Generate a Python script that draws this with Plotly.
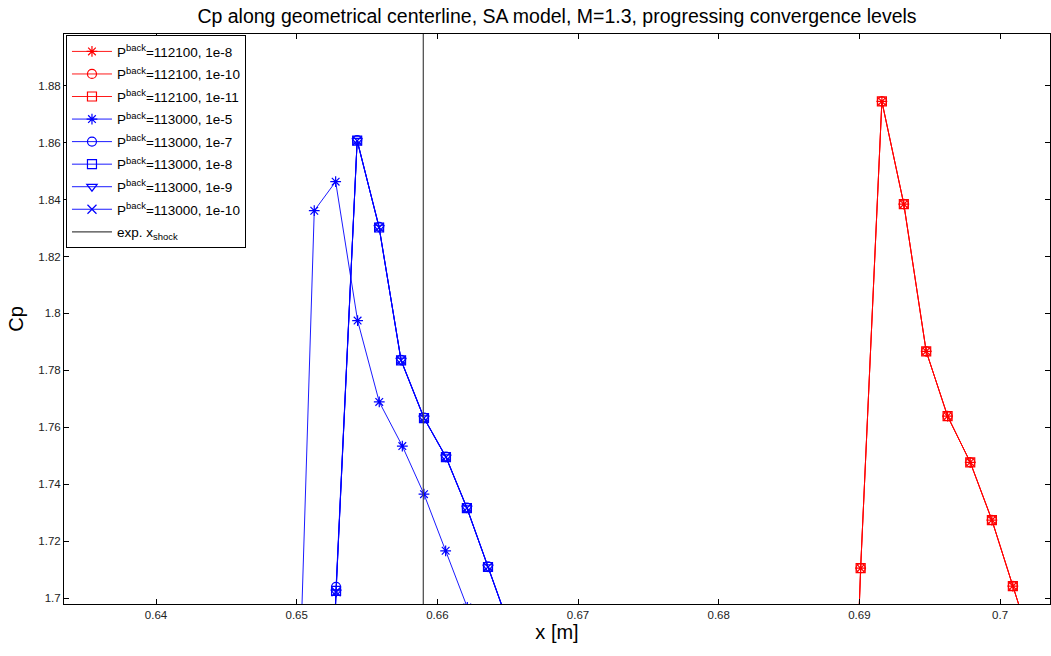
import plotly.graph_objects as go

# ---- data ----
x_blue = [0.65125, 0.6528, 0.65430, 0.65586, 0.65742, 0.65905, 0.66061, 0.66210, 0.66360, 0.66510]
y_113000_1e7 = [1.50, 1.7039, 1.8609, 1.8304, 1.7837, 1.7634, 1.7497, 1.7318, 1.7111, 1.6904]
y_113000_1e8 = [1.50, 1.7025, 1.8607, 1.8302, 1.7835, 1.7632, 1.7495, 1.7316, 1.7109, 1.6902]
y_113000_1e9 = [1.50, 1.7021, 1.8607, 1.8302, 1.7835, 1.7632, 1.7495, 1.7316, 1.7109, 1.6902]
y_113000_1e10 = [1.50, 1.7022, 1.8607, 1.8302, 1.7835, 1.7632, 1.7495, 1.7316, 1.7109, 1.6902]

x_blue_1e5 = [0.6497, 0.65125, 0.65277, 0.65433, 0.65587, 0.65751, 0.65905, 0.66059, 0.66213]
y_113000_1e5 = [1.59, 1.8361, 1.8463, 1.7975, 1.7689, 1.7534, 1.7365, 1.7166, 1.6967]

x_red = [0.68855, 0.69009, 0.6916, 0.69316, 0.69475, 0.69627, 0.69788, 0.69942, 0.70091, 0.7024]
y_112100_1e8 = [1.50, 1.7105, 1.8745, 1.8384, 1.7867, 1.7639, 1.7477, 1.7274, 1.7042, 1.6811]
y_112100_1e10 = [1.50, 1.7105, 1.8745, 1.8384, 1.7867, 1.7639, 1.7477, 1.7274, 1.7042, 1.6811]
y_112100_1e11 = [1.50, 1.7105, 1.8745, 1.8384, 1.7867, 1.7639, 1.7477, 1.7274, 1.7042, 1.6811]

x_shock = 0.659
y_shock_span = [1.60, 2.00]

x_range = [0.63346, 0.70355]
y_range = [1.6979, 1.8982]
x_ticks = [0.64, 0.65, 0.66, 0.67, 0.68, 0.69, 0.70]
x_ticktext = ["0.64", "0.65", "0.66", "0.67", "0.68", "0.69", "0.7"]
y_ticks = [1.70, 1.72, 1.74, 1.76, 1.78, 1.80, 1.82, 1.84, 1.86, 1.88]
y_ticktext = ["1.7", "1.72", "1.74", "1.76", "1.78", "1.8", "1.82", "1.84", "1.86", "1.88"]

FONT = "Liberation Sans, Arial, sans-serif"
RED = "#ff0000"
BLUE = "#0000ff"

series = [
    (x_red, y_112100_1e8, RED, "asterisk-open", "P<sup>back</sup>=112100, 1e-8"),
    (x_red, y_112100_1e10, RED, "circle-open", "P<sup>back</sup>=112100, 1e-10"),
    (x_red, y_112100_1e11, RED, "square-open", "P<sup>back</sup>=112100, 1e-11"),
    (x_blue_1e5, y_113000_1e5, BLUE, "asterisk-open", "P<sup>back</sup>=113000, 1e-5"),
    (x_blue, y_113000_1e7, BLUE, "circle-open", "P<sup>back</sup>=113000, 1e-7"),
    (x_blue, y_113000_1e8, BLUE, "square-open", "P<sup>back</sup>=113000, 1e-8"),
    (x_blue, y_113000_1e9, BLUE, "triangle-down-open", "P<sup>back</sup>=113000, 1e-9"),
    (x_blue, y_113000_1e10, BLUE, "x-thin-open", "P<sup>back</sup>=113000, 1e-10"),
]

fig = go.Figure()
for i, (xs, ys, col, sym, name) in enumerate(series):
    fig.add_trace(go.Scatter(
        x=xs, y=ys, mode="lines+markers", name=name, legendgroup=f"g{i}",
        line=dict(color=col, width=0.9),
        marker=dict(symbol=sym, size=9, color=col, line=dict(color=col, width=1.2)),
    ))

fig.add_trace(go.Scatter(
    x=[x_shock, x_shock], y=y_shock_span, mode="lines", name="exp. x<sub>shock</sub>",
    legendgroup="gs", line=dict(color="#444444", width=1.2),
))

axis_common = dict(
    showline=True, linecolor="black", linewidth=1, mirror="ticks",
    ticks="inside", ticklen=5, tickcolor="black", tickwidth=1,
    showgrid=False, zeroline=False,
    tickfont=dict(family=FONT, size=11.5, color="#222222"),
)

fig.update_layout(
    width=1051, height=656,
    margin=dict(l=64, r=1, t=34, b=52),
    paper_bgcolor="white", plot_bgcolor="white",
    title=dict(text="Cp along geometrical centerline, SA model, M=1.3, progressing convergence levels",
               x=0.5, xref="paper", xanchor="center", y=0.975, yanchor="middle",
               font=dict(family=FONT, size=19.5, color="black")),
    xaxis=dict(range=x_range, tickvals=x_ticks, ticktext=x_ticktext,
               title=dict(text="x [m]", font=dict(family=FONT, size=20, color="black"), standoff=3),
               **axis_common),
    yaxis=dict(range=y_range, tickvals=y_ticks, ticktext=y_ticktext,
               title=dict(text="Cp", font=dict(family=FONT, size=20, color="black"), standoff=9),
               **axis_common),
    legend=dict(x=0.002, y=0.998, xanchor="left", yanchor="top",
                bgcolor="white", bordercolor="black", borderwidth=1,
                font=dict(family=FONT, size=13.5, color="black"),
                itemwidth=40, tracegroupgap=2),
    showlegend=True,
)

fig.write_html("out.html")
